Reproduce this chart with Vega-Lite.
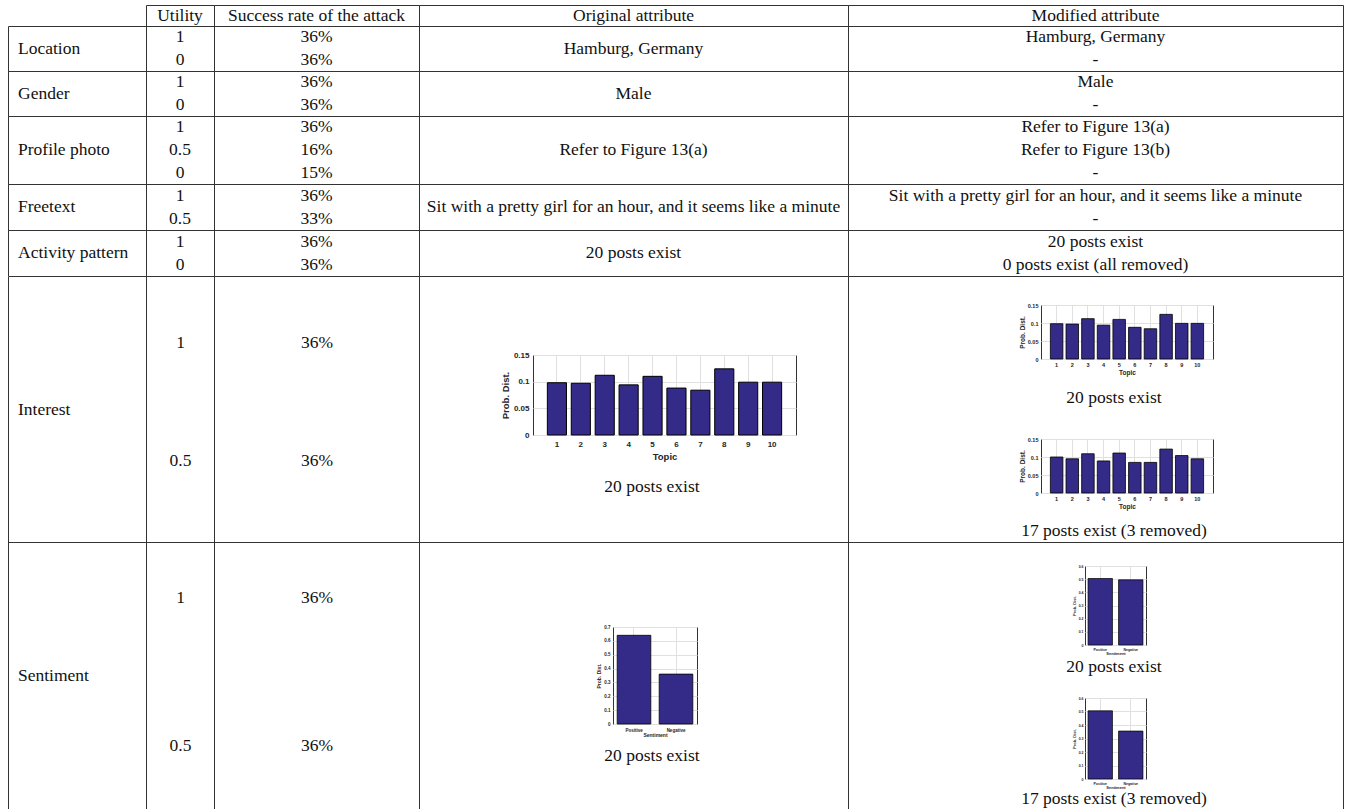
{
"$schema":"https://vega.github.io/schema/vega-lite/v6.json",
"padding":{"left":7,"top":4,"right":0,"bottom":0},
"config":{
 "view":{"stroke":"#333","strokeWidth":1},
 "concat":{"spacing":0},
 "text":{"font":"Liberation Serif","fontSize":17.5,"fill":"#111"},
 "axis":{"labelFont":"Liberation Sans","titleFont":"Liberation Sans","labelFontWeight":"bold","titleFontWeight":"bold","labelColor":"#262626","titleColor":"#262626","domain":false,"ticks":false,"gridColor":"#e0e0e0","gridWidth":1}
},
"datasets":{
 "table":[
  {"attr":"Location","utility":"1","success":"36%","original":"Hamburg, Germany","modified":"Hamburg, Germany"},
  {"attr":"Location","utility":"0","success":"36%","original":"Hamburg, Germany","modified":"-"},
  {"attr":"Gender","utility":"1","success":"36%","original":"Male","modified":"Male"},
  {"attr":"Gender","utility":"0","success":"36%","original":"Male","modified":"-"},
  {"attr":"Profile photo","utility":"1","success":"36%","original":"Refer to Figure 13(a)","modified":"Refer to Figure 13(a)"},
  {"attr":"Profile photo","utility":"0.5","success":"16%","original":"Refer to Figure 13(a)","modified":"Refer to Figure 13(b)"},
  {"attr":"Profile photo","utility":"0","success":"15%","original":"Refer to Figure 13(a)","modified":"-"},
  {"attr":"Freetext","utility":"1","success":"36%","original":"Sit with a pretty girl for an hour, and it seems like a minute","modified":"Sit with a pretty girl for an hour, and it seems like a minute"},
  {"attr":"Freetext","utility":"0.5","success":"33%","original":"Sit with a pretty girl for an hour, and it seems like a minute","modified":"-"},
  {"attr":"Activity pattern","utility":"1","success":"36%","original":"20 posts exist","modified":"20 posts exist"},
  {"attr":"Activity pattern","utility":"0","success":"36%","original":"20 posts exist","modified":"0 posts exist (all removed)"},
  {"attr":"Interest","utility":"1","success":"36%","original":"20 posts exist","modified":"20 posts exist"},
  {"attr":"Interest","utility":"0.5","success":"36%","original":"20 posts exist","modified":"17 posts exist (3 removed)"},
  {"attr":"Sentiment","utility":"1","success":"36%","original":"20 posts exist","modified":"20 posts exist"},
  {"attr":"Sentiment","utility":"0.5","success":"36%","original":"20 posts exist","modified":"17 posts exist (3 removed)"}
 ],
 "interest":[
  {"topic":1,"original":0.098,"removed3":0.100},
  {"topic":2,"original":0.097,"removed3":0.095},
  {"topic":3,"original":0.112,"removed3":0.109},
  {"topic":4,"original":0.094,"removed3":0.089},
  {"topic":5,"original":0.110,"removed3":0.111},
  {"topic":6,"original":0.088,"removed3":0.085},
  {"topic":7,"original":0.084,"removed3":0.085},
  {"topic":8,"original":0.124,"removed3":0.122},
  {"topic":9,"original":0.099,"removed3":0.104},
  {"topic":10,"original":0.099,"removed3":0.095}
 ],
 "sentiment":[
  {"sentiment":"Positive","original":0.64,"all20":0.505,"removed3":0.505},
  {"sentiment":"Negative","original":0.36,"all20":0.495,"removed3":0.355}
 ]
},
"vconcat":[
 {"concat":[
  {"width":138,"height":21,"view":{"stroke":null},"data":{"values":[]},"mark":"text","encoding":{}},
  {"width":68,"height":21,"data":{"values":[{"h":"Utility"}]},"mark":"text","encoding":{"y":{"field":"h","type":"nominal","axis":null},"text":{"field":"h"}}},
  {"width":205,"height":21,"data":{"values":[{"h":"Success rate of the attack"}]},"mark":"text","encoding":{"y":{"field":"h","type":"nominal","axis":null},"text":{"field":"h"}}},
  {"width":429,"height":21,"data":{"values":[{"h":"Original attribute"}]},"mark":"text","encoding":{"y":{"field":"h","type":"nominal","axis":null},"text":{"field":"h"}}},
  {"width":495,"height":21,"data":{"values":[{"h":"Modified attribute"}]},"mark":"text","encoding":{"y":{"field":"h","type":"nominal","axis":null},"text":{"field":"h"}}},

  {"width":138,"height":45,"data":{"name":"table"},"transform":[{"filter":"datum.attr=='Location' && datum.utility=='1'"}],"mark":{"type":"text","align":"left","dx":10},"encoding":{"x":{"datum":0,"type":"quantitative","scale":{"domain":[0,1]},"axis":null},"text":{"field":"attr"}}},
  {"width":68,"height":45,"data":{"name":"table"},"transform":[{"filter":"datum.attr=='Location'"}],"mark":"text","encoding":{"y":{"field":"utility","type":"ordinal","sort":null,"scale":{"type":"band","paddingInner":0,"paddingOuter":0},"axis":null},"text":{"field":"utility"}}},
  {"width":205,"height":45,"data":{"name":"table"},"transform":[{"filter":"datum.attr=='Location'"}],"mark":"text","encoding":{"y":{"field":"utility","type":"ordinal","sort":null,"scale":{"type":"band","paddingInner":0,"paddingOuter":0},"axis":null},"text":{"field":"success"}}},
  {"width":429,"height":45,"data":{"name":"table"},"transform":[{"filter":"datum.attr=='Location' && datum.utility=='1'"}],"mark":"text","encoding":{"y":{"field":"attr","type":"nominal","axis":null},"text":{"field":"original"}}},
  {"width":495,"height":45,"data":{"name":"table"},"transform":[{"filter":"datum.attr=='Location'"}],"mark":"text","encoding":{"y":{"field":"utility","type":"ordinal","sort":null,"scale":{"type":"band","paddingInner":0,"paddingOuter":0},"axis":null},"text":{"field":"modified"}}},

  {"width":138,"height":45,"data":{"name":"table"},"transform":[{"filter":"datum.attr=='Gender' && datum.utility=='1'"}],"mark":{"type":"text","align":"left","dx":10},"encoding":{"x":{"datum":0,"type":"quantitative","scale":{"domain":[0,1]},"axis":null},"text":{"field":"attr"}}},
  {"width":68,"height":45,"data":{"name":"table"},"transform":[{"filter":"datum.attr=='Gender'"}],"mark":"text","encoding":{"y":{"field":"utility","type":"ordinal","sort":null,"scale":{"type":"band","paddingInner":0,"paddingOuter":0},"axis":null},"text":{"field":"utility"}}},
  {"width":205,"height":45,"data":{"name":"table"},"transform":[{"filter":"datum.attr=='Gender'"}],"mark":"text","encoding":{"y":{"field":"utility","type":"ordinal","sort":null,"scale":{"type":"band","paddingInner":0,"paddingOuter":0},"axis":null},"text":{"field":"success"}}},
  {"width":429,"height":45,"data":{"name":"table"},"transform":[{"filter":"datum.attr=='Gender' && datum.utility=='1'"}],"mark":"text","encoding":{"y":{"field":"attr","type":"nominal","axis":null},"text":{"field":"original"}}},
  {"width":495,"height":45,"data":{"name":"table"},"transform":[{"filter":"datum.attr=='Gender'"}],"mark":"text","encoding":{"y":{"field":"utility","type":"ordinal","sort":null,"scale":{"type":"band","paddingInner":0,"paddingOuter":0},"axis":null},"text":{"field":"modified"}}},

  {"width":138,"height":68,"data":{"name":"table"},"transform":[{"filter":"datum.attr=='Profile photo' && datum.utility=='1'"}],"mark":{"type":"text","align":"left","dx":10},"encoding":{"x":{"datum":0,"type":"quantitative","scale":{"domain":[0,1]},"axis":null},"text":{"field":"attr"}}},
  {"width":68,"height":68,"data":{"name":"table"},"transform":[{"filter":"datum.attr=='Profile photo'"}],"mark":"text","encoding":{"y":{"field":"utility","type":"ordinal","sort":null,"scale":{"type":"band","paddingInner":0,"paddingOuter":0},"axis":null},"text":{"field":"utility"}}},
  {"width":205,"height":68,"data":{"name":"table"},"transform":[{"filter":"datum.attr=='Profile photo'"}],"mark":"text","encoding":{"y":{"field":"utility","type":"ordinal","sort":null,"scale":{"type":"band","paddingInner":0,"paddingOuter":0},"axis":null},"text":{"field":"success"}}},
  {"width":429,"height":68,"data":{"name":"table"},"transform":[{"filter":"datum.attr=='Profile photo' && datum.utility=='1'"}],"mark":"text","encoding":{"y":{"field":"attr","type":"nominal","axis":null},"text":{"field":"original"}}},
  {"width":495,"height":68,"data":{"name":"table"},"transform":[{"filter":"datum.attr=='Profile photo'"}],"mark":"text","encoding":{"y":{"field":"utility","type":"ordinal","sort":null,"scale":{"type":"band","paddingInner":0,"paddingOuter":0},"axis":null},"text":{"field":"modified"}}},

  {"width":138,"height":46,"data":{"name":"table"},"transform":[{"filter":"datum.attr=='Freetext' && datum.utility=='1'"}],"mark":{"type":"text","align":"left","dx":10},"encoding":{"x":{"datum":0,"type":"quantitative","scale":{"domain":[0,1]},"axis":null},"text":{"field":"attr"}}},
  {"width":68,"height":46,"data":{"name":"table"},"transform":[{"filter":"datum.attr=='Freetext'"}],"mark":"text","encoding":{"y":{"field":"utility","type":"ordinal","sort":null,"scale":{"type":"band","paddingInner":0,"paddingOuter":0},"axis":null},"text":{"field":"utility"}}},
  {"width":205,"height":46,"data":{"name":"table"},"transform":[{"filter":"datum.attr=='Freetext'"}],"mark":"text","encoding":{"y":{"field":"utility","type":"ordinal","sort":null,"scale":{"type":"band","paddingInner":0,"paddingOuter":0},"axis":null},"text":{"field":"success"}}},
  {"width":429,"height":46,"data":{"name":"table"},"transform":[{"filter":"datum.attr=='Freetext' && datum.utility=='1'"}],"mark":"text","encoding":{"y":{"field":"attr","type":"nominal","axis":null},"text":{"field":"original"}}},
  {"width":495,"height":46,"data":{"name":"table"},"transform":[{"filter":"datum.attr=='Freetext'"}],"mark":"text","encoding":{"y":{"field":"utility","type":"ordinal","sort":null,"scale":{"type":"band","paddingInner":0,"paddingOuter":0},"axis":null},"text":{"field":"modified"}}},

  {"width":138,"height":46,"data":{"name":"table"},"transform":[{"filter":"datum.attr=='Activity pattern' && datum.utility=='1'"}],"mark":{"type":"text","align":"left","dx":10},"encoding":{"x":{"datum":0,"type":"quantitative","scale":{"domain":[0,1]},"axis":null},"text":{"field":"attr"}}},
  {"width":68,"height":46,"data":{"name":"table"},"transform":[{"filter":"datum.attr=='Activity pattern'"}],"mark":"text","encoding":{"y":{"field":"utility","type":"ordinal","sort":null,"scale":{"type":"band","paddingInner":0,"paddingOuter":0},"axis":null},"text":{"field":"utility"}}},
  {"width":205,"height":46,"data":{"name":"table"},"transform":[{"filter":"datum.attr=='Activity pattern'"}],"mark":"text","encoding":{"y":{"field":"utility","type":"ordinal","sort":null,"scale":{"type":"band","paddingInner":0,"paddingOuter":0},"axis":null},"text":{"field":"success"}}},
  {"width":429,"height":46,"data":{"name":"table"},"transform":[{"filter":"datum.attr=='Activity pattern' && datum.utility=='1'"}],"mark":"text","encoding":{"y":{"field":"attr","type":"nominal","axis":null},"text":{"field":"original"}}},
  {"width":495,"height":46,"data":{"name":"table"},"transform":[{"filter":"datum.attr=='Activity pattern'"}],"mark":"text","encoding":{"y":{"field":"utility","type":"ordinal","sort":null,"scale":{"type":"band","paddingInner":0,"paddingOuter":0},"axis":null},"text":{"field":"modified"}}}
 ],"columns":5,"spacing":0,"bounds":"flush"},

 {"hconcat":[
  {"width":1,"height":265,"view":{"stroke":null,"fill":"#333"},"data":{"values":[]},"mark":"text","encoding":{}},
  {"width":137,"height":265,"view":{"stroke":null},"data":{"name":"table"},"transform":[{"filter":"datum.attr=='Interest' && datum.utility=='1'"}],"mark":{"type":"text","align":"left","dx":9},"encoding":{"x":{"datum":0,"type":"quantitative","scale":{"domain":[0,1]},"axis":null},"text":{"field":"attr"}}},
  {"width":1,"height":265,"view":{"stroke":null,"fill":"#333"},"data":{"values":[]},"mark":"text","encoding":{}},
  {"width":67,"height":265,"view":{"stroke":null},"data":{"name":"table"},"transform":[{"filter":"datum.attr=='Interest'"}],"mark":"text","encoding":{"y":{"field":"utility","type":"ordinal","sort":null,"scale":{"type":"point","padding":0.618,"align":0.449},"axis":null},"text":{"field":"utility"}}},
  {"width":1,"height":265,"view":{"stroke":null,"fill":"#333"},"data":{"values":[]},"mark":"text","encoding":{}},
  {"width":204,"height":265,"view":{"stroke":null},"data":{"name":"table"},"transform":[{"filter":"datum.attr=='Interest'"}],"mark":"text","encoding":{"y":{"field":"utility","type":"ordinal","sort":null,"scale":{"type":"point","padding":0.618,"align":0.449},"axis":null},"text":{"field":"success"}}},
  {"width":1,"height":265,"view":{"stroke":null,"fill":"#333"},"data":{"values":[]},"mark":"text","encoding":{}},
  {"concat":[
   {"width":113,"height":78,"view":{"stroke":null},"data":{"values":[]},"mark":"text","encoding":{}},
   {"width":263,"height":78,"view":{"stroke":null},"data":{"values":[]},"mark":"text","encoding":{}},
   {"width":52,"height":78,"view":{"stroke":null},"data":{"values":[]},"mark":"text","encoding":{}},
   {"width":113,"height":80,"view":{"stroke":null},"data":{"values":[]},"mark":"text","encoding":{}},
   {"width":263,"height":80,"data":{"name":"interest"},"mark":{"type":"bar","fill":"#342a87","stroke":"#000","strokeWidth":1},
    "encoding":{
     "x":{"field":"topic","type":"ordinal","scale":{"paddingInner":0.2,"paddingOuter":0.6},"axis":{"labelAngle":0,"labelFontSize":8,"labelPadding":5,"title":"Topic","titleFontSize":9.5,"titlePadding":3,"grid":true,"bandPosition":0.5}},
     "y":{"field":"original","type":"quantitative","scale":{"domain":[0,0.15]},"axis":{"values":[0,0.05,0.1,0.15],"format":".2~f","labelFontSize":8,"labelPadding":4,"title":"Prob. Dist.","titleFontSize":9.5,"titlePadding":3,"grid":true}}}},
   {"width":52,"height":80,"view":{"stroke":null},"data":{"values":[]},"mark":"text","encoding":{}},
   {"width":113,"height":107,"view":{"stroke":null},"data":{"values":[]},"mark":"text","encoding":{}},
   {"width":263,"height":107,"view":{"stroke":null},"data":{"name":"table"},"transform":[{"filter":"datum.attr=='Interest' && datum.utility=='1'"}],"mark":{"type":"text","dx":-12.5,"dy":-1.5},"encoding":{"text":{"field":"original"}}},
   {"width":52,"height":107,"view":{"stroke":null},"data":{"values":[]},"mark":"text","encoding":{}}
  ],"columns":3,"spacing":0,"bounds":"flush"},
  {"width":1,"height":265,"view":{"stroke":null,"fill":"#333"},"data":{"values":[]},"mark":"text","encoding":{}},
  {"concat":[
   {"width":192,"height":28,"view":{"stroke":null},"data":{"values":[]},"mark":"text","encoding":{}},
   {"width":172,"height":28,"view":{"stroke":null},"data":{"values":[]},"mark":"text","encoding":{}},
   {"width":130,"height":28,"view":{"stroke":null},"data":{"values":[]},"mark":"text","encoding":{}},
   {"width":192,"height":54,"view":{"stroke":null},"data":{"values":[]},"mark":"text","encoding":{}},
   {"width":172,"height":54,"data":{"name":"interest"},"mark":{"type":"bar","fill":"#342a87","stroke":"#000","strokeWidth":0.8},
    "encoding":{
     "x":{"field":"topic","type":"ordinal","scale":{"paddingInner":0.2,"paddingOuter":0.6},"axis":{"labelAngle":0,"labelFontSize":5.5,"labelPadding":3,"title":"Topic","titleFontSize":6.5,"titlePadding":2,"grid":true,"bandPosition":0.5}},
     "y":{"field":"original","type":"quantitative","scale":{"domain":[0,0.15]},"axis":{"values":[0,0.05,0.1,0.15],"format":".2~f","labelFontSize":5.5,"labelPadding":3,"title":"Prob. Dist.","titleFontSize":6.5,"titlePadding":2,"grid":true}}}},
   {"width":130,"height":54,"view":{"stroke":null},"data":{"values":[]},"mark":"text","encoding":{}},
   {"width":192,"height":80,"view":{"stroke":null},"data":{"values":[]},"mark":"text","encoding":{}},
   {"width":172,"height":80,"view":{"stroke":null},"data":{"name":"table"},"transform":[{"filter":"datum.attr=='Interest' && datum.utility=='1'"}],"mark":{"type":"text","dx":-13,"dy":-1},"encoding":{"text":{"field":"modified"}}},
   {"width":130,"height":80,"view":{"stroke":null},"data":{"values":[]},"mark":"text","encoding":{}},
   {"width":192,"height":54,"view":{"stroke":null},"data":{"values":[]},"mark":"text","encoding":{}},
   {"width":172,"height":54,"data":{"name":"interest"},"mark":{"type":"bar","fill":"#342a87","stroke":"#000","strokeWidth":0.8},
    "encoding":{
     "x":{"field":"topic","type":"ordinal","scale":{"paddingInner":0.2,"paddingOuter":0.6},"axis":{"labelAngle":0,"labelFontSize":5.5,"labelPadding":3,"title":"Topic","titleFontSize":6.5,"titlePadding":2,"grid":true,"bandPosition":0.5}},
     "y":{"field":"removed3","type":"quantitative","scale":{"domain":[0,0.15]},"axis":{"values":[0,0.05,0.1,0.15],"format":".2~f","labelFontSize":5.5,"labelPadding":3,"title":"Prob. Dist.","titleFontSize":6.5,"titlePadding":2,"grid":true}}}},
   {"width":130,"height":54,"view":{"stroke":null},"data":{"values":[]},"mark":"text","encoding":{}},
   {"width":192,"height":49,"view":{"stroke":null},"data":{"values":[]},"mark":"text","encoding":{}},
   {"width":172,"height":49,"view":{"stroke":null},"data":{"name":"table"},"transform":[{"filter":"datum.attr=='Interest' && datum.utility=='0.5'"}],"mark":{"type":"text","dx":-13,"dy":13.5},"encoding":{"text":{"field":"modified"}}},
   {"width":130,"height":49,"view":{"stroke":null},"data":{"values":[]},"mark":"text","encoding":{}}
  ],"columns":3,"spacing":0,"bounds":"flush"},
  {"width":1,"height":265,"view":{"stroke":null,"fill":"#333"},"data":{"values":[]},"mark":"text","encoding":{}}
 ],"spacing":0},

 {"width":1336,"height":1,"view":{"stroke":null,"fill":"#333"},"data":{"values":[]},"mark":"text","encoding":{}},

 {"hconcat":[
  {"width":1,"height":266,"view":{"stroke":null,"fill":"#333"},"data":{"values":[]},"mark":"text","encoding":{}},
  {"width":137,"height":266,"view":{"stroke":null},"data":{"name":"table"},"transform":[{"filter":"datum.attr=='Sentiment' && datum.utility=='1'"}],"mark":{"type":"text","align":"left","dx":9},"encoding":{"x":{"datum":0,"type":"quantitative","scale":{"domain":[0,1]},"axis":null},"text":{"field":"attr"}}},
  {"width":1,"height":266,"view":{"stroke":null,"fill":"#333"},"data":{"values":[]},"mark":"text","encoding":{}},
  {"width":67,"height":266,"view":{"stroke":null},"data":{"name":"table"},"transform":[{"filter":"datum.attr=='Sentiment'"}],"mark":"text","encoding":{"y":{"field":"utility","type":"ordinal","sort":null,"scale":{"type":"point","padding":0.396,"align":0.466},"axis":null},"text":{"field":"utility"}}},
  {"width":1,"height":266,"view":{"stroke":null,"fill":"#333"},"data":{"values":[]},"mark":"text","encoding":{}},
  {"width":204,"height":266,"view":{"stroke":null},"data":{"name":"table"},"transform":[{"filter":"datum.attr=='Sentiment'"}],"mark":"text","encoding":{"y":{"field":"utility","type":"ordinal","sort":null,"scale":{"type":"point","padding":0.396,"align":0.466},"axis":null},"text":{"field":"success"}}},
  {"width":1,"height":266,"view":{"stroke":null,"fill":"#333"},"data":{"values":[]},"mark":"text","encoding":{}},
  {"concat":[
   {"width":193,"height":84,"view":{"stroke":null},"data":{"values":[]},"mark":"text","encoding":{}},
   {"width":84,"height":84,"view":{"stroke":null},"data":{"values":[]},"mark":"text","encoding":{}},
   {"width":151,"height":84,"view":{"stroke":null},"data":{"values":[]},"mark":"text","encoding":{}},
   {"width":193,"height":97,"view":{"stroke":null},"data":{"values":[]},"mark":"text","encoding":{}},
   {"width":84,"height":97,"data":{"name":"sentiment"},"mark":{"type":"bar","fill":"#342a87","stroke":"#000","strokeWidth":0.8},
    "encoding":{
     "x":{"field":"sentiment","type":"nominal","sort":null,"scale":{"paddingInner":0.2,"paddingOuter":0.1},"axis":{"labelAngle":0,"labelFontSize":4.5,"labelPadding":3,"title":"Sentiment","titleFontSize":5,"titlePadding":1,"grid":true,"bandPosition":0.5}},
     "y":{"field":"original","type":"quantitative","scale":{"domain":[0,0.7]},"axis":{"values":[0,0.1,0.2,0.3,0.4,0.5,0.6,0.7],"format":".1~f","labelFontSize":4.5,"labelPadding":3,"title":"Prob. Dist.","titleFontSize":5,"titlePadding":2,"grid":true}}}},
   {"width":151,"height":97,"view":{"stroke":null},"data":{"values":[]},"mark":"text","encoding":{}},
   {"width":193,"height":85,"view":{"stroke":null},"data":{"values":[]},"mark":"text","encoding":{}},
   {"width":84,"height":85,"view":{"stroke":null},"data":{"name":"table"},"transform":[{"filter":"datum.attr=='Sentiment' && datum.utility=='1'"}],"mark":{"type":"text","dx":-3,"dy":-10.5},"encoding":{"text":{"field":"original"}}},
   {"width":151,"height":85,"view":{"stroke":null},"data":{"values":[]},"mark":"text","encoding":{}}
  ],"columns":3,"spacing":0,"bounds":"flush"},
  {"width":1,"height":266,"view":{"stroke":null,"fill":"#333"},"data":{"values":[]},"mark":"text","encoding":{}},
  {"concat":[
   {"width":236,"height":23,"view":{"stroke":null},"data":{"values":[]},"mark":"text","encoding":{}},
   {"width":61,"height":23,"view":{"stroke":null},"data":{"values":[]},"mark":"text","encoding":{}},
   {"width":197,"height":23,"view":{"stroke":null},"data":{"values":[]},"mark":"text","encoding":{}},
   {"width":236,"height":79,"view":{"stroke":null},"data":{"values":[]},"mark":"text","encoding":{}},
   {"width":61,"height":79,"data":{"name":"sentiment"},"mark":{"type":"bar","fill":"#342a87","stroke":"#000","strokeWidth":0.7},
    "encoding":{
     "x":{"field":"sentiment","type":"nominal","sort":null,"scale":{"paddingInner":0.2,"paddingOuter":0.1},"axis":{"labelAngle":0,"labelFontSize":3.5,"labelPadding":2,"title":"Sentiment","titleFontSize":4,"titlePadding":1,"grid":true,"bandPosition":0.5}},
     "y":{"field":"all20","type":"quantitative","scale":{"domain":[0,0.6]},"axis":{"values":[0,0.1,0.2,0.3,0.4,0.5,0.6],"format":".1~f","labelFontSize":3.5,"labelPadding":2,"title":"Prob. Dist.","titleFontSize":4,"titlePadding":2,"grid":true}}}},
   {"width":197,"height":79,"view":{"stroke":null},"data":{"values":[]},"mark":"text","encoding":{}},
   {"width":236,"height":53,"view":{"stroke":null},"data":{"values":[]},"mark":"text","encoding":{}},
   {"width":61,"height":53,"view":{"stroke":null},"data":{"name":"table"},"transform":[{"filter":"datum.attr=='Sentiment' && datum.utility=='1'"}],"mark":{"type":"text","dx":-1.5,"dy":-4.5},"encoding":{"text":{"field":"modified"}}},
   {"width":197,"height":53,"view":{"stroke":null},"data":{"values":[]},"mark":"text","encoding":{}},
   {"width":236,"height":81,"view":{"stroke":null},"data":{"values":[]},"mark":"text","encoding":{}},
   {"width":61,"height":81,"data":{"name":"sentiment"},"mark":{"type":"bar","fill":"#342a87","stroke":"#000","strokeWidth":0.7},
    "encoding":{
     "x":{"field":"sentiment","type":"nominal","sort":null,"scale":{"paddingInner":0.2,"paddingOuter":0.1},"axis":{"labelAngle":0,"labelFontSize":3.5,"labelPadding":2,"title":"Sentiment","titleFontSize":4,"titlePadding":1,"grid":true,"bandPosition":0.5}},
     "y":{"field":"removed3","type":"quantitative","scale":{"domain":[0,0.6]},"axis":{"values":[0,0.1,0.2,0.3,0.4,0.5,0.6],"format":".1~f","labelFontSize":3.5,"labelPadding":2,"title":"Prob. Dist.","titleFontSize":4,"titlePadding":2,"grid":true}}}},
   {"width":197,"height":81,"view":{"stroke":null},"data":{"values":[]},"mark":"text","encoding":{}},
   {"width":236,"height":30,"view":{"stroke":null},"data":{"values":[]},"mark":"text","encoding":{}},
   {"width":61,"height":30,"view":{"stroke":null},"data":{"name":"table"},"transform":[{"filter":"datum.attr=='Sentiment' && datum.utility=='0.5'"}],"mark":{"type":"text","dx":-1.5,"dy":5},"encoding":{"text":{"field":"modified"}}},
   {"width":197,"height":30,"view":{"stroke":null},"data":{"values":[]},"mark":"text","encoding":{}}
  ],"columns":3,"spacing":0,"bounds":"flush"},
  {"width":1,"height":266,"view":{"stroke":null,"fill":"#333"},"data":{"values":[]},"mark":"text","encoding":{}}
 ],"spacing":0},

 {"width":1336,"height":1,"view":{"stroke":null,"fill":"#333"},"data":{"values":[]},"mark":"text","encoding":{}}
],"spacing":0
}
